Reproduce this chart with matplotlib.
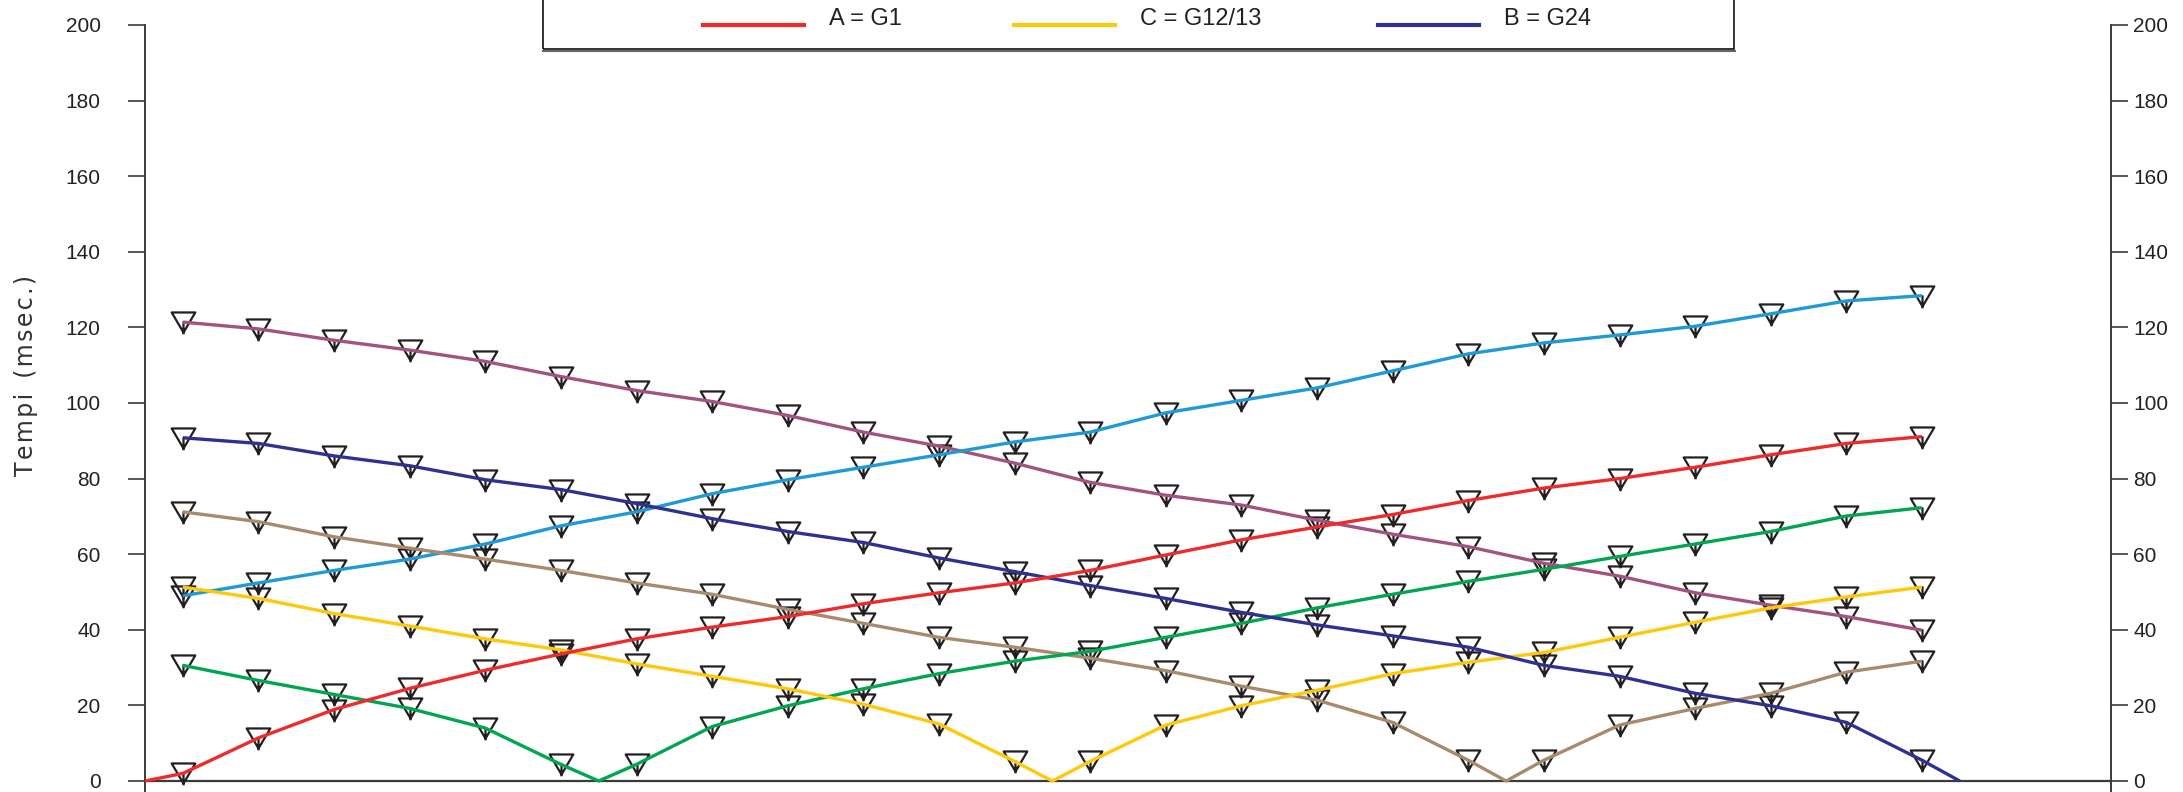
"""
Travel-time plot (dromocrone): picks per geophone with the fitted lines.
"""

import matplotlib
matplotlib.use("Agg")
import matplotlib.pyplot as plt
from matplotlib.path import Path
from matplotlib.patches import Rectangle
from matplotlib.lines import Line2D

# geophone stations
stations = list(range(1, 25))

# travel times (msec) per shot
red_a = [2, 11.4, 18.9, 24.5, 29.3, 33.6, 37.6, 40.7, 43.5, 46.9, 49.8, 52.4,
         55.7, 59.8, 63.8, 67.2, 70.5, 74.2, 77.5, 80, 83, 86.3, 89.3, 91.1]
green = [30.6, 26.6, 22.9, 19.2, 14, 4.4, 4.4, 14.4, 19.9, 24.4, 28.4, 31.7,
         34.3, 38, 41.7, 45.8, 49.4, 52.8, 56, 59.4, 62.7, 66, 70.1, 72.3]
yellow_c = [51.3, 48.3, 44.3, 41, 37.6, 34.7, 31, 27.7, 24.4, 20.3, 15.1, 5.2,
            5.2, 14.8, 19.9, 24, 28.4, 31.4, 34, 38, 42, 45.8, 48.7, 51.3]
brown = [71.2, 68.6, 64.6, 61.6, 58.7, 55.7, 52.4, 49.4, 45.4, 41.7, 38, 35.4,
         32.5, 29.2, 25.1, 21.4, 15.5, 5.5, 5.5, 14.8, 19.2, 23.2, 28.8, 31.7]
blue_b = [90.8, 89.3, 86, 83.4, 79.7, 77.1, 73.4, 69.4, 66, 63.1, 59, 55.4,
          51.7, 48.3, 44.6, 41.3, 38.4, 35.4, 30.6, 27.7, 23.2, 19.9, 15.5, 5.5]
light_blue = [49, 52.4, 55.7, 58.7, 62.7, 67.5, 71.2, 76, 79.7, 83, 86.3, 89.7,
              92.3, 97.4, 100.7, 104, 108.5, 113, 115.9, 118, 120.3, 123.6, 127, 128.4]
purple = [121.4, 119.6, 116.6, 114, 111, 107, 103.3, 100.4, 96.7, 92.3, 88.6, 84.1,
          79, 75.6, 73, 69, 65.3, 62, 57.6, 54.2, 49.8, 46.5, 43.5, 39.9]

# shot positions (between geophones), None = off-end shot
series = [
    (purple, None, '#A3537F'),
    (light_blue, None, '#1F9AD6'),
    (brown, 18.5, '#A88B6C'),
    (green, 6.5, '#00A650'),
    (yellow_c, 12.5, '#FFC80A'),
    (blue_b, 24.5, '#2E3192'),
    (red_a, 0.5, '#EE2A2A'),
]

legend_labels = ['A = G1', 'C = G12/13', 'B = G24']
legend_colors = ['#EE2A2A', '#FFC80A', '#2E3192']

# geophone symbol: open triangle with a short stem
geo_marker = Path(
    [(-1, 0.85), (1, 0.85), (0, -0.85), (-1, 0.85), (0, 0.1), (0, -1.0)],
    [Path.MOVETO, Path.LINETO, Path.LINETO, Path.CLOSEPOLY, Path.MOVETO, Path.LINETO])

W, H = 2183, 792
fig = plt.figure(figsize=(W / 100, H / 100), dpi=100)

y_lo = -4
px_unit = (781 - 25) / 200
ax_bottom_px = 781 - y_lo * px_unit
ax = fig.add_axes([145 / W, (H - ax_bottom_px) / H, (2111 - 145) / W, (ax_bottom_px - 25) / H])

for vals, shot, col in series:
    xs = list(stations)
    ys = list(vals)
    if shot is not None:
        # line goes down to zero at the shot point
        i = sum(1 for s in stations if s < shot)
        xs.insert(i, shot)
        ys.insert(i, 0)
    ax.plot(xs, ys, color=col, lw=2.4, zorder=3, solid_capstyle='butt')
    ax.plot(stations, vals, linestyle='none', marker=geo_marker, ms=17,
            mfc='none', mec='#231F20', mew=1.6, zorder=2)

ax.axhline(0, color='#3a3a3a', lw=1.6, zorder=1)

ax.set_xlim(0.5, 26.5)
ax.set_ylim(y_lo, 200)
ax.set_yticks(range(0, 201, 20))
ax.set_xticks([])
for side in ['top', 'bottom']:
    ax.spines[side].set_visible(False)
for side in ['left', 'right']:
    ax.spines[side].set_color('#3a3a3a')
    ax.spines[side].set_linewidth(1.4)
ax.tick_params(axis='y', direction='out', length=12, width=1.2, color='#3a3a3a',
               labelsize=15, labelcolor='#222222', pad=20)
for lab in ax.get_yticklabels():
    lab.set_family(['Liberation Sans', 'DejaVu Sans'])

ax2 = ax.twinx()
ax2.set_ylim(y_lo, 200)
ax2.set_yticks(range(0, 201, 20))
for side in ['top', 'bottom', 'left', 'right']:
    ax2.spines[side].set_visible(False)
ax2.tick_params(axis='y', direction='out', length=12, width=1.2, color='#3a3a3a',
                labelsize=15, labelcolor='#222222', pad=4)
for lab in ax2.get_yticklabels():
    lab.set_family(['Liberation Sans', 'DejaVu Sans'])

# letter-spaced axis title
ylab = '\u200a'.join('Tempi') + '  ' + '\u200a'.join('(msec.)')
fig.text(26 / W, 1 - 376 / H, ylab, rotation=90, ha='center', va='center',
         fontsize=17, color='#333333', family=['DejaVu Sans'])

# legend box (top edge falls outside the picture)
fig.patches.append(Rectangle((543 / W, 1 - 49 / H), (1734 - 543) / W, 0.1,
                             transform=fig.transFigure, fill=False, ec='#111111', lw=1.2))
fig.lines.append(Line2D([543 / W, 1735 / W], [1 - 51 / H, 1 - 51 / H],
                        transform=fig.transFigure, color='#666666', lw=1.5))

line_x = [703, 1014, 1378]
for lx, lab, col in zip(line_x, legend_labels, legend_colors):
    fig.lines.append(Line2D([lx / W, (lx + 101) / W], [1 - 25 / H, 1 - 25 / H],
                            transform=fig.transFigure, color=col, lw=3))
    fig.text((lx + 126) / W, 1 - 19 / H, lab, ha='left', va='center', fontsize=17,
             color='#222222', family=['Liberation Sans', 'DejaVu Sans'])

fig.savefig('out.png', dpi=100)
